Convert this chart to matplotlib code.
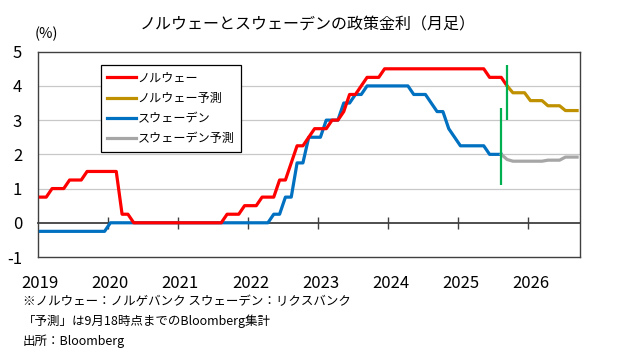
import numpy as np
import pandas as pd
import matplotlib
matplotlib.use("Agg")
import matplotlib.pyplot as plt

plt.rcParams['font.family'] = ['Noto Sans CJK JP', 'DejaVu Sans']

# month axis: Jan 2019 .. Sep 2026
months = pd.period_range('2019-01', '2026-09', freq='M')
year_labels = ['2019', '2020', '2021', '2022', '2023', '2024', '2025', '2026']

# Norges Bank policy rate, month end, Jan 2019 - Sep 2025
norway = ([0.75, 0.75, 1.0, 1.0, 1.0, 1.25, 1.25, 1.25, 1.5, 1.5, 1.5, 1.5] +
          [1.5, 1.5, 0.25, 0.25, 0, 0, 0, 0, 0, 0, 0, 0] +
          [0, 0, 0, 0, 0, 0, 0, 0, 0.25, 0.25, 0.25, 0.5] +
          [0.5, 0.5, 0.75, 0.75, 0.75, 1.25, 1.25, 1.75, 2.25, 2.25, 2.5, 2.75] +
          [2.75, 2.75, 3.0, 3.0, 3.25, 3.75, 3.75, 4.0, 4.25, 4.25, 4.25, 4.5] +
          [4.5] * 12 +
          [4.5, 4.5, 4.5, 4.5, 4.5, 4.25, 4.25, 4.25, 4.0])
# Bloomberg forecast, Sep 2025 - Sep 2026
norway_fc = [4.0, 3.8, 3.8, 3.8, 3.57, 3.57, 3.57, 3.42, 3.42, 3.42, 3.28, 3.28, 3.28]

# Riksbank policy rate, month end, Jan 2019 - Aug 2025
sweden = ([-0.25] * 12 +
          [0] * 12 +
          [0] * 12 +
          [0, 0, 0, 0, 0.25, 0.25, 0.75, 0.75, 1.75, 1.75, 2.5, 2.5] +
          [2.5, 3.0, 3.0, 3.0, 3.5, 3.5, 3.75, 3.75, 4.0, 4.0, 4.0, 4.0] +
          [4.0, 4.0, 4.0, 4.0, 3.75, 3.75, 3.75, 3.5, 3.25, 3.25, 2.75, 2.5] +
          [2.25, 2.25, 2.25, 2.25, 2.25, 2.0, 2.0, 2.0])
# Bloomberg forecast, Aug 2025 - Sep 2026
sweden_fc = [2.0, 1.85, 1.8, 1.8, 1.8, 1.8, 1.8, 1.8, 1.83, 1.83, 1.83, 1.92, 1.92, 1.92]

# green markers where the forecasts start: (month, low, high)
nor_mark = ('2025-09', 3.0, 4.6)
swe_mark = ('2025-08', 1.1, 3.35)

x = np.arange(len(months)) + 0.5   # points sit in the middle of each month
n_nor = len(norway)
n_swe = len(sweden)

def mx(p):
    return list(months).index(pd.Period(p, freq='M')) + 0.5

fig = plt.figure(figsize=(6.2, 3.59), dpi=100)
ax = fig.add_axes([37.5 / 620, 1 - 257 / 359, 542.5 / 620, 205.3 / 359])

lw = 2.3
ax.plot(x[:n_nor], norway, color='#FF0000', lw=lw, label='ノルウェー', zorder=4)
ax.plot(x[n_nor - 1:n_nor - 1 + len(norway_fc)], norway_fc, color='#BF9000', lw=lw,
        label='ノルウェー予測', zorder=4)
ax.plot(x[:n_swe], sweden, color='#0070C0', lw=lw, label='スウェーデン', zorder=3)
ax.plot(x[n_swe - 1:n_swe - 1 + len(sweden_fc)], sweden_fc, color='#A6A6A6', lw=lw,
        label='スウェーデン予測', zorder=3)

for m, lo, hi in (nor_mark, swe_mark):
    ax.vlines(mx(m), lo, hi, color='#00B050', lw=1.6, zorder=5)

ax.set_xlim(0, len(months))
ax.set_ylim(-1, 5)
ax.set_yticks(range(-1, 6))
ax.set_yticklabels([str(v) for v in range(-1, 6)], fontsize=12)
ax.tick_params(axis='y', length=0, pad=11)
for v in range(1, 5):
    ax.axhline(v, color='#C8C8C8', lw=0.9, zorder=1)

# year labels centred on January
ax.set_xticks([12 * i + 0.5 for i in range(len(year_labels))])
ax.set_xticklabels(year_labels, fontsize=12)
ax.tick_params(axis='x', length=0, pad=13)

for s in ax.spines.values():
    s.set_color('#404040')
    s.set_linewidth(1.0)

# zero line with year tick marks
zero = ax.secondary_xaxis(1 / 6)
zero.set_xticks([12 * i for i in range(1, len(year_labels))])
zero.set_xticklabels([])
zero.tick_params(direction='inout', length=8, width=1.0, color='#404040')
zero.spines['bottom'].set_color('#404040')
zero.spines['bottom'].set_linewidth(1.3)

leg = ax.legend(loc='upper left', bbox_to_anchor=(0.1165, 0.935), borderaxespad=0,
                fontsize=8.7, fancybox=False, edgecolor='black', framealpha=1,
                handlelength=2.4, handletextpad=0.1, labelspacing=0.6, borderpad=0.55)
leg.get_frame().set_linewidth(0.9)

fig.text(308 / 620, 1 - 25 / 359, 'ノルウェーとスウェーデンの政策金利（月足）',
         ha='center', va='center', fontsize=11.5)
fig.text(46 / 620, 1 - 34 / 359, '(%)', ha='center', va='center', fontsize=10.5)

notes = ['※ノルウェー：ノルゲバンク スウェーデン：リクスバンク',
         '「予測」は9月18時点までのBloomberg集計',
         '出所：Bloomberg']
for i, t in enumerate(notes):
    fig.text(23 / 620, 1 - (301.7 + 20 * i) / 359, t, ha='left', va='center', fontsize=9)

fig.savefig('out.png', dpi=100)
